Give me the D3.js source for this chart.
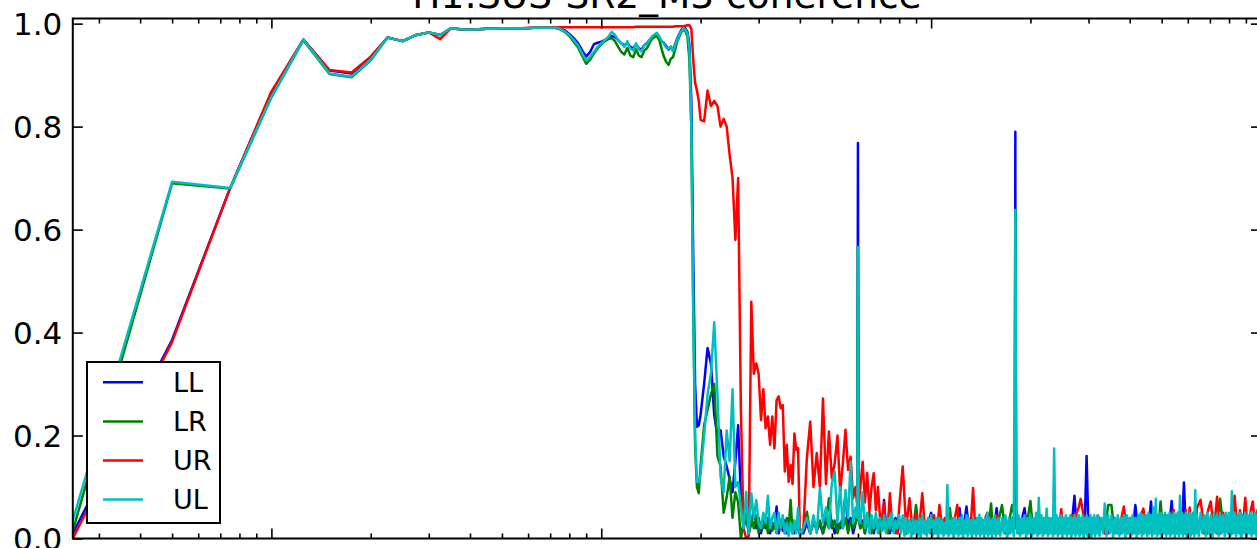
<!DOCTYPE html>
<html><head><meta charset="utf-8">
<script src="https://cdn.jsdelivr.net/npm/d3@7"></script>
<style>html,body{margin:0;padding:0;background:#fff;overflow:hidden}svg{display:block}</style>
</head><body><svg id="c" width="1257" height="548"></svg>
<script>
const titleText = "H1:SUS-SR2_M3 coherence";
const seriesNames = ["LL", "LR", "UR", "UL"];
const yTickValues = [0, 0.2, 0.4, 0.6, 0.8, 1.0];
const yTickLabels = ["0.0", "0.2", "0.4", "0.6", "0.8", "1.0"];

// frequency bins (Hz) used by LL, LR, UR
const freqs = [
  0.25,0.5,0.75,1,1.25,1.5,1.75,2,2.25,2.5,2.75,3,3.25,3.5,3.75,4,4.25,4.5,4.75,5,
  5.25,5.5,5.75,6,6.25,6.5,6.75,7,7.25,7.5,7.75,8,8.25,8.5,8.75,9,9.25,9.5,9.75,10,
  10.25,10.5,10.75,11,11.25,11.5,11.75,12,12.25,12.5,12.75,13,13.25,13.5,13.75,14,14.25,14.5,14.75,15,
  15.25,15.5,15.75,16,16.25,16.5,16.75,17,17.25,17.5,17.75,18,18.25,18.5,18.75,19,19.25,19.5,19.75,20,
  20.5,21,21.5,22,22.5,23,23.5,24,24.5,25,25.5,26,26.5,27,27.5,28,28.5,29,29.5,30,
  30.5,31,31.5,32,32.5,33,33.5,34,34.5,35,35.5,36,36.5,37,37.5,38,38.5,39,39.5,40,
  41,42,43,44,45,46,47,48,49,50,51,52,53,54,55,56,57,58,59,59.75,60,60.25,
  61,62,63,64,65,66,67,68,69,70,71,72,73,74,75,76,77,78,79,80,
  82,84,86,88,90,92,94,96,98,100,102,104,106,108,110,112,114,116,118,120,
  122,124,126,128,130,132,134,136,138,140,142,144,146,148,150,152,154,156,158,160,
  164,168,172,176,179.5,180,180.5,184,188,192,196,200,204,208,212,216,220,224,228,232,236,
  240,244,248,252,256,260,264,268,272,276,280,284,288,292,296,300,304,308,312,316,320,
  328,336,344,352,360,368,376,384,392,400,408,416,424,432,440,448,456,464,472,480,
  488,496,504,512,520,528,536,544,552,560,568,576,584,592,600,608,616,624,632,640,
  656,672,688,704,720,736,752,768,784,800,816,832,848,864,880,896,912,928,944,960,976,992
];

// finer bins above 80 Hz for UL (drawn on top, dense noise floor)
const ulHighFreqs = [
  81,82,83,84,85,86,87,88,89,90,91,92,93,94,95,96,97,98,99,100,
  101,102,103,104,105,106,107,108,109,110,111,112,113,114,115,116,117,118,119,120,
  121,122,123,124,125,126,127,128,129,130,131,132,133,134,135,136,137,138,139,140,
  141,142,143,144,145,146,147,148,149,150,151,152,153,154,155,156,157,158,159,160,
  162,164,166,168,170,172,174,176,178,180,182,184,186,188,190,192,194,196,198,200,
  202,204,206,208,210,212,214,216,218,220,222,224,226,228,230,232,234,236,238,240,
  242,244,246,248,250,252,254,256,258,260,262,264,266,268,270,272,274,276,278,280,
  282,284,286,288,290,292,294,296,298,300,302,304,306,308,310,312,314,316,318,320,
  324,328,332,336,340,344,348,352,356,360,364,368,372,376,380,384,388,392,396,400,
  404,408,412,416,420,424,428,432,436,440,444,448,452,456,460,464,468,472,476,480,
  484,488,492,496,500,504,508,512,516,520,524,528,532,536,540,544,548,552,556,560,
  564,568,572,576,580,584,588,592,596,600,604,608,612,616,620,624,628,632,636,640,
  648,656,664,672,680,688,696,704,712,720,728,736,744,752,760,768,776,784,792,800,
  808,816,824,832,840,848,856,864,872,880,888,896,904,912,920,928,936,944,952,960,
  968,976,984,992,1000
];

const LL = [
  0.01,0.386,0.681,0.866,0.969,0.909,0.903,0.935,0.973,0.966,
  0.978,0.983,0.978,0.991,0.989,0.988,0.989,0.990,0.990,0.991,
  0.991,0.991,0.991,0.991,0.992,0.992,0.992,0.992,0.992,0.991,
  0.987,0.980,0.972,0.962,0.948,0.936,0.945,0.960,0.963,0.965,
  0.968,0.972,0.976,0.974,0.968,0.962,0.958,0.962,0.955,0.952,
  0.960,0.952,0.950,0.958,0.962,0.968,0.972,0.976,0.978,0.972,
  0.966,0.962,0.956,0.950,0.955,0.948,0.960,0.972,0.980,0.988,
  0.993,0.990,0.984,0.960,0.85,0.55,0.30,0.217,0.22,0.24,
  0.30,0.37,0.34,0.24,0.20,0.21,0.16,0.14,0.115,0.09,
  0.15,0.22,0.08,0.02,0.045,0.01,0.03,0.055,0.02,0.04,
  0.01,0.035,0.02,0.04,0.01,0.03,0.02,0.062,0.01,0.03,
  0.015,0.035,0.01,0.03,0.02,0.035,0.01,0.03,0.02,0.01,
  0.01,0.03,0.01,0.035,0.015,0.03,0.01,0.04,0.02,0.035,0.01,0.03,0.02,0.045,0.083,0.02,0.04,0.01,0.03,
  0.05,0.768,0.05,
  0.02,0.035,0.01,0.04,0.02,0.035,0.01,0.03,0.02,0.04,0.015,0.075,0.02,0.035,0.01,0.03,0.02,0.04,0.01,0.03,
  0.03,0.01,0.035,0.01,0.03,0.015,0.035,0.01,0.03,0.05,0.01,0.03,0.015,0.035,0.01,0.03,0.02,0.035,0.01,0.03,
  0.059,0.01,0.03,0.062,0.02,0.03,0.01,0.035,0.015,0.03,0.01,0.035,0.02,0.03,0.01,0.035,0.015,0.03,0.059,0.02,
  0.02,0.035,0.01,0.03,0.05,0.79,0.05,0.02,0.035,0.059,0.01,0.03,0.015,0.035,0.01,0.03,0.02,0.035,0.01,0.03,0.015,
  0.035,0.01,0.03,0.02,0.035,0.01,0.03,0.04,0.083,0.02,0.035,0.01,0.03,0.02,0.16,0.01,0.035,0.015,0.03,0.01,0.035,
  0.02,0.035,0.01,0.03,0.015,0.035,0.01,0.03,0.02,0.035,0.01,0.065,0.015,0.03,0.01,0.035,0.02,0.072,0.01,0.035,
  0.015,0.03,0.01,0.035,0.02,0.03,0.073,0.015,0.035,0.01,0.03,0.02,0.109,0.01,0.035,0.015,0.03,0.01,0.035,0.02,
  0.02,0.035,0.01,0.03,0.015,0.035,0.01,0.03,0.02,0.035,0.01,0.03,0.02,0.04,0.01,0.035,0.015,0.03,0.01,0.035,0.02,0.03
];

const LR = [
  0.015,0.69,0.68,0.857,0.968,0.902,0.896,0.929,0.973,0.966,
  0.978,0.983,0.978,0.991,0.989,0.988,0.989,0.990,0.990,0.991,
  0.991,0.991,0.991,0.991,0.992,0.992,0.992,0.992,0.992,0.989,
  0.984,0.976,0.965,0.954,0.938,0.922,0.930,0.942,0.952,0.960,
  0.966,0.970,0.972,0.966,0.955,0.945,0.940,0.953,0.938,0.935,
  0.950,0.938,0.935,0.948,0.952,0.962,0.970,0.974,0.976,0.968,
  0.950,0.935,0.925,0.920,0.932,0.935,0.950,0.966,0.975,0.984,
  0.989,0.985,0.975,0.93,0.80,0.45,0.18,0.10,0.088,0.14,
  0.22,0.25,0.28,0.30,0.16,0.14,0.05,0.08,0.12,0.04,
  0.09,0.07,0.0,0.03,0.05,0.01,0.04,0.02,0.045,0.01,
  0.03,0.02,0.04,0.01,0.035,0.015,0.03,0.01,0.04,0.02,
  0.035,0.01,0.04,0.02,0.075,0.01,0.03,0.015,0.03,0.01,
  0.02,0.052,0.01,0.03,0.02,0.035,0.01,0.03,0.078,0.02,0.035,0.01,0.03,0.02,0.04,0.01,0.035,0.02,0.03,
  0.04,0.567,0.04,
  0.02,0.03,0.01,0.035,0.05,0.01,0.03,0.02,0.035,0.01,0.03,0.02,0.035,0.01,0.03,0.015,0.035,0.01,0.03,0.02,
  0.03,0.01,0.035,0.015,0.065,0.01,0.03,0.02,0.035,0.01,0.03,0.015,0.035,0.01,0.03,0.02,0.059,0.01,0.035,0.015,
  0.03,0.01,0.035,0.02,0.03,0.01,0.035,0.015,0.03,0.01,0.035,0.02,0.03,0.01,0.035,0.068,0.01,0.03,0.015,0.035,
  0.065,0.01,0.03,0.065,0.04,0.638,0.04,0.01,0.03,0.015,0.035,0.073,0.01,0.03,0.02,0.035,0.01,0.03,0.015,0.035,0.01,
  0.03,0.02,0.035,0.01,0.03,0.015,0.035,0.01,0.03,0.02,0.035,0.01,0.03,0.015,0.035,0.01,0.03,0.02,0.035,0.01,0.03,
  0.035,0.01,0.065,0.065,0.01,0.03,0.015,0.035,0.01,0.03,0.02,0.035,0.01,0.03,0.015,0.035,0.01,0.03,0.02,0.035,
  0.01,0.072,0.015,0.03,0.01,0.035,0.02,0.03,0.01,0.035,0.015,0.03,0.01,0.035,0.02,0.03,0.01,0.035,0.015,0.03,
  0.03,0.01,0.035,0.015,0.03,0.01,0.077,0.02,0.03,0.01,0.035,0.015,0.03,0.01,0.035,0.02,0.03,0.01,0.035,0.015,0.03,0.01
];

const UR = [
  0.0,0.382,0.681,0.868,0.969,0.910,0.905,0.936,0.973,0.966,
  0.978,0.983,0.970,0.991,0.989,0.988,0.989,0.990,0.990,0.991,
  0.991,0.991,0.991,0.992,0.992,0.992,0.992,0.993,0.993,0.993,
  0.993,0.993,0.993,0.993,0.993,0.993,0.993,0.993,0.993,0.993,
  0.993,0.993,0.993,0.993,0.993,0.993,0.993,0.993,0.993,0.993,
  0.994,0.994,0.994,0.994,0.994,0.994,0.994,0.994,0.994,0.994,
  0.994,0.994,0.994,0.994,0.994,0.994,0.995,0.995,0.995,0.995,
  0.995,0.996,0.997,0.997,0.99,0.93,0.885,0.87,0.85,0.813,
  0.81,0.87,0.84,0.85,0.84,0.80,0.815,0.80,0.745,0.70,
  0.58,0.70,0.25,0.02,0.0,0.005,0.46,0.32,0.34,0.32,
  0.23,0.29,0.214,0.237,0.182,0.237,0.175,0.269,0.276,0.253,
  0.259,0.13,0.182,0.11,0.143,0.106,0.204,0.172,0.176,0.01,
  0.02,0.156,0.227,0.10,0.166,0.10,0.272,0.106,0.208,0.117,0.146,0.20,0.09,0.146,0.211,0.133,0.159,0.078,0.10,
  0.06,0.07,0.06,
  0.10,0.149,0.07,0.127,0.052,0.10,0.127,0.055,0.10,0.04,0.04,0.07,0.012,0.03,0.088,0.033,0.02,0.033,0.01,0.06,
  0.14,0.02,0.078,0.01,0.05,0.02,0.088,0.01,0.04,0.02,0.045,0.01,0.065,0.02,0.04,0.01,0.03,0.015,0.04,0.065,
  0.01,0.035,0.02,0.04,0.015,0.03,0.098,0.02,0.04,0.01,0.035,0.02,0.04,0.05,0.015,0.04,0.02,0.035,0.045,0.01,
  0.03,0.01,0.035,0.015,0.03,0.04,0.02,0.035,0.01,0.03,0.015,0.035,0.01,0.03,0.02,0.035,0.01,0.03,0.015,0.035,0.01,
  0.03,0.02,0.057,0.01,0.035,0.015,0.03,0.045,0.02,0.05,0.06,0.077,0.055,0.02,0.04,0.015,0.035,0.01,0.04,0.02,0.045,
  0.03,0.01,0.035,0.015,0.04,0.01,0.035,0.062,0.01,0.04,0.015,0.035,0.01,0.045,0.058,0.015,0.04,0.01,0.035,0.02,
  0.045,0.01,0.04,0.015,0.045,0.01,0.05,0.055,0.02,0.05,0.015,0.045,0.02,0.055,0.015,0.06,0.02,0.05,0.015,0.06,
  0.075,0.02,0.05,0.072,0.015,0.081,0.02,0.05,0.015,0.045,0.02,0.083,0.015,0.055,0.02,0.079,0.015,0.05,0.072,0.02,0.055,0.02
];

// UL: first 162 values on the shared bins up to 80 Hz, then values on ulHighFreqs
const UL = [
  0.035,0.693,0.681,0.858,0.969,0.903,0.897,0.930,0.973,0.966,
  0.978,0.983,0.978,0.991,0.989,0.988,0.989,0.990,0.990,0.991,
  0.991,0.991,0.991,0.991,0.992,0.992,0.992,0.992,0.992,0.990,
  0.985,0.978,0.968,0.958,0.942,0.928,0.935,0.945,0.955,0.962,
  0.968,0.974,0.984,0.978,0.968,0.962,0.955,0.966,0.952,0.948,
  0.962,0.950,0.946,0.958,0.960,0.968,0.975,0.979,0.982,0.975,
  0.966,0.960,0.953,0.952,0.956,0.946,0.958,0.970,0.978,0.986,
  0.991,0.988,0.980,0.955,0.80,0.45,0.20,0.11,0.11,0.125,
  0.20,0.28,0.32,0.42,0.28,0.12,0.09,0.21,0.15,0.29,
  0.10,0.11,0.06,0.02,0.091,0.01,0.088,0.04,0.075,0.03,
  0.02,0.05,0.03,0.083,0.02,0.04,0.05,0.01,0.05,0.02,
  0.045,0.01,0.03,0.005,0.03,0.01,0.035,0.01,0.06,0.005,
  0.02,0.04,0.01,0.045,0.01,0.098,0.03,0.06,0.02,0.107,0.13,0.03,0.10,0.02,0.094,0.04,0.149,0.03,0.06,
  0.04,0.565,0.04,
  0.03,0.09,0.02,0.05,0.01,0.045,0.02,0.05,0.01,0.04,0.015,0.045,0.01,0.04,0.02,0.05,0.01,0.035,0.02,0.045,
  // 81 .. 160 Hz
  0.01,0.045,0.005,0.04,0.01,0.035,0.0,0.04,0.01,0.035,0.005,0.04,0.0,0.045,0.01,0.035,0.005,0.04,0.01,0.045,
  0.005,0.035,0.01,0.04,0.0,0.04,0.01,0.035,0.005,0.03,0.01,0.104,0.005,0.035,0.01,0.04,0.0,0.04,0.01,0.035,
  0.005,0.04,0.01,0.045,0.0,0.035,0.01,0.045,0.005,0.04,0.01,0.035,0.0,0.04,0.01,0.035,0.005,0.04,0.01,0.046,
  0.005,0.04,0.01,0.035,0.0,0.04,0.01,0.05,0.005,0.04,0.01,0.035,0.0,0.04,0.01,0.045,0.005,0.035,0.01,0.04,
  // 162 .. 320 Hz
  0.005,0.04,0.01,0.045,0.0,0.04,0.01,0.04,0.005,0.638,0.01,0.045,0.005,0.04,0.01,0.045,0.0,0.04,0.01,0.045,
  0.005,0.04,0.01,0.05,0.005,0.079,0.01,0.045,0.005,0.04,0.01,0.058,0.005,0.04,0.01,0.04,0.005,0.175,0.01,0.045,
  0.005,0.04,0.01,0.045,0.0,0.04,0.01,0.045,0.005,0.04,0.01,0.045,0.0,0.04,0.01,0.045,0.005,0.04,0.01,0.045,
  0.005,0.04,0.01,0.045,0.0,0.04,0.01,0.045,0.005,0.04,0.01,0.045,0.0,0.04,0.01,0.045,0.005,0.04,0.01,0.045,
  // 324 .. 640 Hz
  0.005,0.04,0.01,0.068,0.005,0.045,0.01,0.045,0.0,0.04,0.01,0.045,0.005,0.04,0.01,0.045,0.0,0.045,0.01,0.04,
  0.005,0.045,0.01,0.04,0.0,0.045,0.01,0.05,0.005,0.045,0.01,0.045,0.005,0.05,0.01,0.045,0.005,0.06,0.01,0.077,
  0.005,0.045,0.01,0.05,0.0,0.045,0.01,0.05,0.005,0.045,0.01,0.05,0.005,0.045,0.01,0.05,0.0,0.045,0.01,0.05,
  0.005,0.083,0.01,0.05,0.005,0.045,0.01,0.05,0.0,0.045,0.01,0.05,0.005,0.045,0.01,0.05,0.005,0.094,0.01,0.045,
  // 648 .. 1000 Hz
  0.005,0.05,0.01,0.045,0.005,0.05,0.01,0.045,0.0,0.05,0.01,0.045,0.005,0.05,0.01,0.045,0.005,0.05,0.01,0.05,
  0.005,0.092,0.01,0.05,0.005,0.045,0.01,0.05,0.0,0.045,0.01,0.05,0.005,0.045,0.01,0.05,0.005,0.045,0.01,0.05,
  0.005,0.045,0.01,0.05,0.01
];

const ulFreqs = freqs.slice(0, 162).concat(ulHighFreqs);
const seriesFreqs = [freqs, freqs, freqs, ulFreqs];
const seriesValues = [LL, LR, UR, UL];
const seriesColors = ["#0000ff", "#008000", "#ff0000", "#00bfbf"];

// ---------- layout ----------
const W = 1257, H = 548;
const plot = { left: 72.8, right: 1261, top: 18.5, bottom: 538.5 };
const FONT = "'DejaVu Sans', 'Liberation Sans', sans-serif";
const LINE_W = 2.5;

const x = d3.scaleLog().domain([0.25, 1000]).range([plot.left, plot.right]);
const y = d3.scaleLinear().domain([0, 1.01]).range([plot.bottom, plot.top]);

const svg = d3.select("#c");
svg.append("rect").attr("width", W).attr("height", H).attr("fill", "#fff");

svg.append("defs").append("clipPath").attr("id", "clip")
  .append("rect").attr("x", plot.left).attr("y", plot.top)
  .attr("width", plot.right - plot.left).attr("height", plot.bottom - plot.top);

const line = d3.line().x(d => x(d[0])).y(d => y(d[1]));
const gLines = svg.append("g").attr("clip-path", "url(#clip)");
seriesValues.forEach((vals, si) => {
  const fr = seriesFreqs[si];
  if (vals.length !== fr.length) console.warn(seriesNames[si], vals.length, fr.length);
  const n = Math.min(vals.length, fr.length);
  const pts = [];
  for (let i = 0; i < n; i++) pts.push([fr[i], vals[i]]);
  gLines.append("path").datum(pts).attr("d", line)
    .attr("fill", "none").attr("stroke", seriesColors[si])
    .attr("stroke-width", LINE_W).attr("stroke-linejoin", "round");
});

// ---------- axes ----------
const allX = x.ticks();
const majorX = allX.filter(v => Math.abs(Math.log10(v) - Math.round(Math.log10(v))) < 1e-9);
const minorX = allX.filter(v => !majorX.includes(v));

function styleAxis(g) {
  g.select(".domain").remove();
  g.selectAll(".tick line").attr("stroke", "#000").attr("stroke-width", 1.6);
  g.selectAll(".tick text").attr("fill", "#000").style("font-family", FONT);
}
[[d3.axisBottom, plot.bottom], [d3.axisTop, plot.top]].forEach(([ax, ty]) => {
  svg.append("g").attr("transform", `translate(0,${ty})`)
    .call(ax(x).tickValues(minorX).tickSizeInner(-5).tickSizeOuter(0).tickFormat(""))
    .call(styleAxis);
  svg.append("g").attr("transform", `translate(0,${ty})`)
    .call(ax(x).tickValues(majorX).tickSizeInner(-10).tickSizeOuter(0).tickFormat(""))
    .call(styleAxis);
});
svg.append("g").attr("transform", `translate(${plot.left},0)`)
  .call(d3.axisLeft(y).tickValues(yTickValues).tickSizeInner(-10).tickSizeOuter(0)
    .tickPadding(10.5).tickFormat((d, i) => yTickLabels[i]))
  .call(styleAxis)
  .call(g => g.selectAll(".tick text").style("font-size", "31px").attr("dy", "0.36em"));
svg.append("g").attr("transform", `translate(${plot.right},0)`)
  .call(d3.axisRight(y).tickValues(yTickValues).tickSizeInner(-10).tickSizeOuter(0).tickFormat(""))
  .call(styleAxis);

svg.append("rect").attr("x", plot.left).attr("y", plot.top)
  .attr("width", plot.right - plot.left).attr("height", plot.bottom - plot.top)
  .attr("fill", "none").attr("stroke", "#000").attr("stroke-width", 2);

// ---------- title ----------
svg.append("text").attr("x", (plot.left + plot.right) / 2).attr("y", 7.5)
  .attr("text-anchor", "middle").style("font-family", FONT).style("font-size", "37.5px")
  .attr("fill", "#000").text(titleText);

// ---------- legend ----------
const lg = svg.append("g");
lg.append("rect").attr("x", 87).attr("y", 362).attr("width", 133).attr("height", 161)
  .attr("fill", "#fff").attr("stroke", "#000").attr("stroke-width", 2);
seriesNames.forEach((name, i) => {
  const ly = 382.3 + i * 39.1;
  lg.append("line").attr("x1", 103).attr("x2", 143).attr("y1", ly).attr("y2", ly)
    .attr("stroke", seriesColors[i]).attr("stroke-width", LINE_W);
  lg.append("text").attr("x", 173).attr("y", ly).attr("dy", "0.36em")
    .style("font-family", FONT).style("font-size", "27px").attr("fill", "#000").text(name);
});
</script>
</body></html>
